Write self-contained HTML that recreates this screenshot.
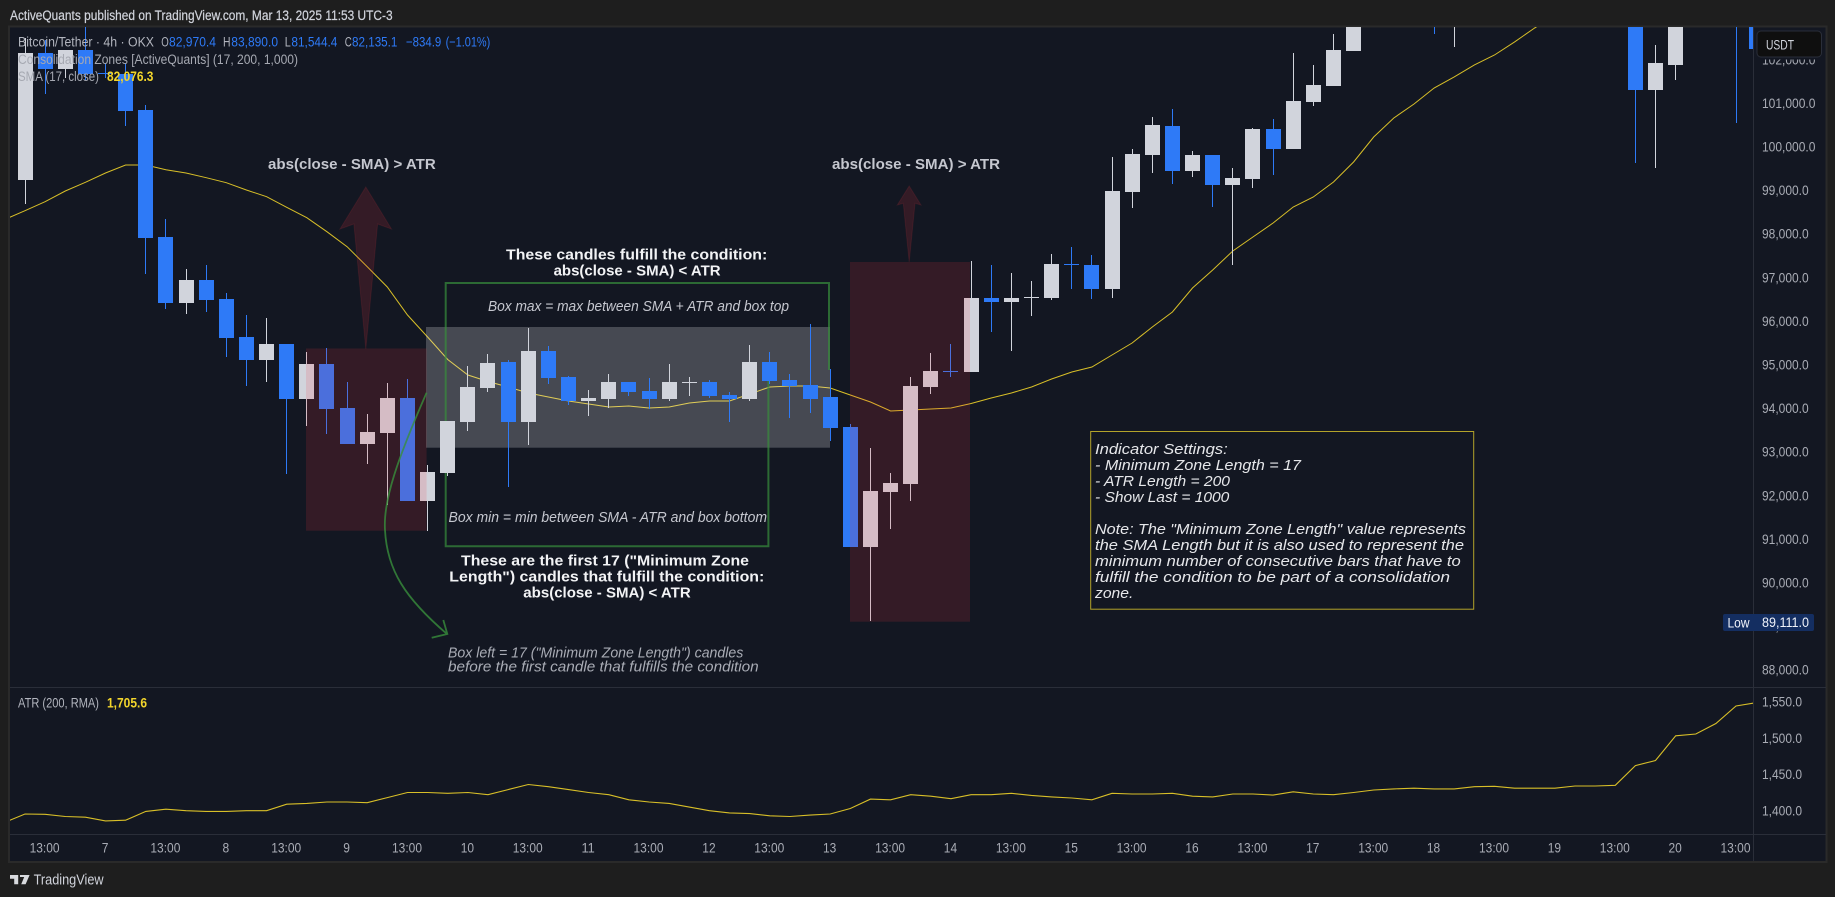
<!DOCTYPE html>
<html lang="en">
<head>
<meta charset="utf-8">
<title>BTC/USDT Consolidation Zones chart</title>
<style>
html,body{margin:0;padding:0;background:#1e1e1e;width:1835px;height:897px;overflow:hidden}
svg{display:block}
text{font-family:"Liberation Sans",sans-serif}
</style>
</head>
<body>
<svg id="chart" xmlns="http://www.w3.org/2000/svg" width="1835" height="897" viewBox="0 0 1835 897">
  <defs>
    <clipPath id="mainClip"><rect x="10" y="27" width="1743" height="660"/></clipPath>
    <clipPath id="atrClip"><rect x="10" y="688" width="1743" height="146"/></clipPath>
  </defs>
  <rect x="0" y="0" width="1835" height="897" fill="#1e1e1e"/>
  <text x="10" y="19.8" font-size="13.5" fill="#d1d4dc" stroke="#d1d4dc" stroke-width="0.2" textLength="382.6" lengthAdjust="spacingAndGlyphs">ActiveQuants published on TradingView.com, Mar 13, 2025 11:53 UTC-3</text>
  <rect x="9" y="26.5" width="1817.5" height="835.5" fill="#131722" stroke="#2a2a2a" stroke-width="2"/>

  <g id="mainPane" clip-path="url(#mainClip)">
    <path id="smaLine" fill="none" stroke="#d8bf28" stroke-width="1"/>
    <rect x="426" y="327" width="404" height="120.7" fill="rgba(255,255,255,0.22)"/>
    <path fill="none" stroke="rgba(56,142,60,0.7)" stroke-width="2" d="M829 370V283H445.7V546.3H768.4V362"/>
    <g id="candles"></g>
    <rect x="306" y="348.5" width="120.6" height="182.2" fill="rgba(242,54,69,0.15)"/>
    <rect x="850" y="262" width="120" height="359.7" fill="rgba(242,54,69,0.15)"/>
    <path d="M365.8 187L391.5 229L377.6 224L365.8 349L353.9 224L340 229Z" fill="rgba(242,54,69,0.15)" stroke="rgba(242,54,69,0.12)" stroke-width="1"/>
    <path d="M909.2 186L921 205L915 203.3L909.2 262L903.3 203.3L897.3 205Z" fill="rgba(242,54,69,0.15)" stroke="rgba(242,54,69,0.12)" stroke-width="1"/>
    <path fill="none" stroke="rgba(56,142,60,0.8)" stroke-width="1.8" d="M426.6 392.7C398 458 383 500 385 530C387 570 405 598 447 634M443.3 620L447.3 634L431.7 637.7"/>

    <g>
      <text x="268" y="169" font-size="15" font-weight="700" fill="#c5c7cf" textLength="167.7" lengthAdjust="spacingAndGlyphs">abs(close - SMA) &gt; ATR</text>
      <text x="832" y="169" font-size="15" font-weight="700" fill="#c5c7cf" textLength="168" lengthAdjust="spacingAndGlyphs">abs(close - SMA) &gt; ATR</text>
      <text x="506" y="259.3" font-size="15" font-weight="700" fill="#f2f3f5" textLength="261.3" lengthAdjust="spacingAndGlyphs">These candles fulfill the condition:</text>
      <text x="553.6" y="275.3" font-size="15" font-weight="700" fill="#f2f3f5" textLength="167" lengthAdjust="spacingAndGlyphs">abs(close - SMA) &lt; ATR</text>
      <text x="488" y="311" font-size="14.5" font-style="italic" fill="#c5c7cf" textLength="301" lengthAdjust="spacingAndGlyphs">Box max = max between SMA + ATR and box top</text>
      <text x="448.5" y="522" font-size="14.5" font-style="italic" fill="#c5c7cf" textLength="318.5" lengthAdjust="spacingAndGlyphs">Box min = min between SMA - ATR and box bottom</text>
      <text x="461" y="565.3" font-size="15" font-weight="700" fill="#f2f3f5" textLength="288" lengthAdjust="spacingAndGlyphs">These are the first 17 ("Minimum Zone</text>
      <text x="449.3" y="581.3" font-size="15" font-weight="700" fill="#f2f3f5" textLength="315" lengthAdjust="spacingAndGlyphs">Length") candles that fulfill the condition:</text>
      <text x="523.3" y="597.3" font-size="15" font-weight="700" fill="#f2f3f5" textLength="167.4" lengthAdjust="spacingAndGlyphs">abs(close - SMA) &lt; ATR</text>
      <text x="448" y="657.3" font-size="14.5" font-style="italic" fill="#a9acb5" textLength="295.3" lengthAdjust="spacingAndGlyphs">Box left = 17 ("Minimum Zone Length") candles</text>
      <text x="448" y="671.3" font-size="14.5" font-style="italic" fill="#a9acb5" textLength="310.7" lengthAdjust="spacingAndGlyphs">before the first candle that fulfills the condition</text>
    </g>

    <g>
      <rect x="1090.7" y="431.5" width="383" height="177.7" fill="none" stroke="#b3a32a" stroke-width="1"/>
      <g font-size="15" font-style="italic" fill="#e6e7ea">
        <text x="1095" y="453.8" textLength="132.7" lengthAdjust="spacingAndGlyphs">Indicator Settings:</text>
        <text x="1095" y="469.8" textLength="206" lengthAdjust="spacingAndGlyphs">- Minimum Zone Length = 17</text>
        <text x="1095" y="485.8" textLength="135" lengthAdjust="spacingAndGlyphs">- ATR Length = 200</text>
        <text x="1095" y="501.8" textLength="134.3" lengthAdjust="spacingAndGlyphs">- Show Last = 1000</text>
        <text x="1095" y="533.8" textLength="371" lengthAdjust="spacingAndGlyphs">Note: The "Minimum Zone Length" value represents</text>
        <text x="1095" y="549.8" textLength="369" lengthAdjust="spacingAndGlyphs">the SMA Length but it is also used to represent the</text>
        <text x="1095" y="565.8" textLength="365.7" lengthAdjust="spacingAndGlyphs">minimum number of consecutive bars that have to</text>
        <text x="1095" y="581.8" textLength="355" lengthAdjust="spacingAndGlyphs">fulfill the condition to be part of a consolidation</text>
        <text x="1095" y="597.8" textLength="38.3" lengthAdjust="spacingAndGlyphs">zone.</text>
      </g>
    </g>
  </g>

  <g font-size="13.5">
    <text x="18" y="46.4" fill="#b2b5be" textLength="136" lengthAdjust="spacingAndGlyphs">Bitcoin/Tether · 4h · OKX</text>
    <text x="161.3" y="46.4" fill="#b2b5be" textLength="7.5" lengthAdjust="spacingAndGlyphs">O</text>
    <text x="169" y="46.4" fill="#2e7af7" textLength="47" lengthAdjust="spacingAndGlyphs">82,970.4</text>
    <text x="223" y="46.4" fill="#b2b5be" textLength="7.5" lengthAdjust="spacingAndGlyphs">H</text>
    <text x="231.3" y="46.4" fill="#2e7af7" textLength="46.7" lengthAdjust="spacingAndGlyphs">83,890.0</text>
    <text x="284.7" y="46.4" fill="#b2b5be" textLength="6" lengthAdjust="spacingAndGlyphs">L</text>
    <text x="291.4" y="46.4" fill="#2e7af7" textLength="46" lengthAdjust="spacingAndGlyphs">81,544.4</text>
    <text x="344.8" y="46.4" fill="#b2b5be" textLength="7" lengthAdjust="spacingAndGlyphs">C</text>
    <text x="352" y="46.4" fill="#2e7af7" textLength="45.4" lengthAdjust="spacingAndGlyphs">82,135.1</text>
    <text x="406" y="46.4" fill="#2e7af7" textLength="35.3" lengthAdjust="spacingAndGlyphs">−834.9</text>
    <text x="445.6" y="46.4" fill="#2e7af7" textLength="44.7" lengthAdjust="spacingAndGlyphs">(−1.01%)</text>
    <text x="18" y="63.8" fill="#a6a9b2" textLength="280" lengthAdjust="spacingAndGlyphs">Consolidation Zones [ActiveQuants] (17, 200, 1,000)</text>
    <text x="18" y="80.8" fill="#a6a9b2" textLength="81" lengthAdjust="spacingAndGlyphs">SMA (17, close)</text>
    <text x="107" y="80.8" fill="#f2d52c" font-weight="700" textLength="46.4" lengthAdjust="spacingAndGlyphs">82,076.3</text>
  </g>

  <path id="atrLine" clip-path="url(#atrClip)" fill="none" stroke="#d8bf28" stroke-width="1.1"/>
  <g font-size="13.5">
    <text x="18" y="707.4" fill="#b2b5be" textLength="81" lengthAdjust="spacingAndGlyphs">ATR (200, RMA)</text>
    <text x="107" y="707.4" fill="#f2d52c" font-weight="700" textLength="40" lengthAdjust="spacingAndGlyphs">1,705.6</text>
  </g>

  <rect x="10" y="687" width="1816" height="1" fill="#2a2e39"/>
  <rect x="10" y="834" width="1816" height="1" fill="#2a2e39"/>
  <rect x="1753" y="27" width="1" height="834" fill="#2a2e39"/>

  <g id="priceAxis" font-size="13.5" fill="#a9acb5"></g>
  <g id="atrAxis" font-size="13.5" fill="#a9acb5"></g>
  <g id="timeAxis" font-size="13.5" fill="#a9acb5"></g>

  <g>
    <rect x="1755" y="29" width="68" height="30.5" fill="#131722"/>
    <rect x="1757" y="31" width="64.5" height="26" rx="4" fill="#0f0f0f" stroke="#2a2e39" stroke-width="1"/>
    <text x="1766" y="49.5" font-size="13.5" fill="#d1d4dc" textLength="28" lengthAdjust="spacingAndGlyphs">USDT</text>
  </g>
  <g>
    <rect x="1723" y="614" width="91" height="17" rx="2" fill="#142e61"/>
    <text x="1727.5" y="627.3" font-size="13.5" fill="#f0f3fa" textLength="22" lengthAdjust="spacingAndGlyphs">Low</text>
    <text x="1762" y="626.8" font-size="13.5" fill="#f0f3fa" textLength="47" lengthAdjust="spacingAndGlyphs">89,111.0</text>
  </g>

  <g>
    <path fill="#d8dade" d="M10 875h8.2v9.2h-4v-5.5H10zM20 875h9.6l-4 9.2h-4.4l3-7.2H20z"/>
    <text x="33.6" y="884.6" font-size="15" fill="#d1d4dc" textLength="70" lengthAdjust="spacingAndGlyphs">TradingView</text>
  </g>
</svg>

<script>
// Candle data, bar by bar (4h bars)
const opens = [99237,102150,101783,102219,101698,101668,100843,97929,96415,96943,96507,95635,95108,95475,94213,95016,94006,93181,93433,94236,91873,92515,93685,94465,95062,93685,95314,94717,94167,94213,94603,94396,94213,94580,94603,94305,94213,95062,94649,94534,94259,93570,90818,92079,92263,94488,94855,94832,96530,96438,96530,96530,97310,97287,96736,98961,99810,100475,99443,99810,99122,99260,100407,99948,101026,101393,102196,102950,103200,103300,103400,103200,103500,103700,103800,103700,103900,103800,103700,103500,103100,101301,101875,103000,103300,103700,103300];
const highs = [102494,102448,102219,102747,101921,101921,100957,98342,97195,97287,96645,96140,96071,95475,95291,95383,94603,93869,94580,94672,92699,93708,94970,95245,95108,95842,95429,94740,94419,94786,94603,94695,95016,94717,94649,94373,95452,95291,94786,95933,94901,93639,93089,92515,94717,95268,95475,97379,97287,97103,96920,97539,97700,97516,99764,99948,100682,100866,99902,99810,99512,100430,100636,102150,101875,102586,103100,103300,103500,103600,103700,103700,103900,104000,104100,104000,104100,104000,103900,103700,103400,102334,103300,103400,103700,103900,103500];
const lows = [98686,101210,101577,101531,101577,100475,97080,96278,96163,96209,95176,94511,94603,92492,93593,93410,93181,92722,91781,91873,91185,92446,93479,94373,92194,93158,94557,94075,93823,94006,94282,93983,94167,94282,94236,93685,94167,94557,93777,93892,93250,90818,89111,91231,91873,94328,94717,94832,95750,95314,96117,96484,96736,96507,96530,98594,99397,99145,99306,98617,97287,99053,99351,99948,100934,101393,102196,102800,102900,103000,102586,102288,103000,103200,103300,103300,103500,103400,103300,103000,99627,99512,101531,102800,103000,100544,102242];
const closes = [102150,101783,102219,101668,101668,100820,97906,96415,96943,96484,95612,95108,95475,94213,95016,93983,93181,93456,94236,91873,92538,93708,94488,95039,93685,95314,94695,94167,94236,94603,94373,94213,94603,94603,94282,94213,95062,94626,94511,94213,93548,90818,92102,92286,94511,94855,94832,96530,96438,96530,96553,97310,97287,96736,98984,99833,100498,99443,99810,99122,99283,100407,99948,101049,101416,102219,102950,103100,103300,103400,103200,103500,103700,103800,103700,103900,103800,103700,103500,103100,101301,101921,103000,103300,103700,103200,102242];

// SMA(17) and ATR(200): first entry is the bar just left of the visible range
const smaValues = [98333,98533,98739,98985,99184,99397,99581,99581,99473,99397,99289,99175,99007,98854,98610,98372,98051,97707,97248,96782,96140,95635,95119,94763,94615,94488,94350,94259,94167,94098,94029,94052,94006,94029,94121,94167,94167,94328,94488,94511,94511,94465,94305,94144,93938,93961,93983,94006,94110,94236,94350,94488,94672,94832,94947,95222,95498,95865,96209,96759,97172,97608,97929,98250,98617,98847,99191,99650,100223,100659,100980,101347,101600,101875,102104,102403,102724,103022,103274,103527,103780,104000,104200,104400,104600,104800,105000,105200];
const atrValues = [1384,1395.5,1395,1392,1391,1386,1387,1399,1402,1400,1399,1399,1400,1400,1409,1410,1412,1412,1411,1418,1425,1425,1424,1425,1422,1429,1436,1433,1429,1425,1422,1415,1412,1410,1405,1400,1397,1396,1393,1392,1394,1395.5,1403,1416,1415,1422,1420,1416.5,1422,1422,1424,1421,1419,1417.5,1415,1424,1423,1423,1424,1420,1419,1423,1423,1421.5,1426,1423,1422,1425,1428.5,1430,1431,1430,1430,1433,1433.5,1431,1431,1431,1434,1434,1435,1462,1469,1503,1505.5,1520,1544,1548.5];

// Axis tick labels
const priceTicks = [102000,101000,100000,99000,98000,97000,96000,95000,94000,93000,92000,91000,90000,89000,88000];
const atrTicks = [1550,1500,1450,1400];
const timeTickLabels = ['13:00','7','13:00','8','13:00','9','13:00','10','13:00','11','13:00','12','13:00','13','13:00','14','13:00','15','13:00','16','13:00','17','13:00','18','13:00','19','13:00','20','13:00'];

// Axis functions
function xBar(i){return 24.5 + 20.13 * i;}
function yPrice(p){return 277.5 + (97000 - p) * 0.0436;}
function yAtr(v){return 810.7 - (v - 1400) * 0.727;}
function fmt(v){return v.toLocaleString('en-US',{minimumFractionDigits:1,maximumFractionDigits:1});}
// Reference labels are a condensed face: keep them narrow while tall
function labelWidth(s){
  let w = 0;
  for (const ch of s) { w += /[0-9]/.test(ch) ? 6.67 : 3.34; }
  return w;
}

const SVGNS = 'http://www.w3.org/2000/svg';
const UP = '#d1d4dc';
const DOWN = '#2e7af7';
const FIRST_TICK_BAR = 1;
const BARS_PER_TICK = 3;

const candleGroup = document.getElementById('candles');
opens.forEach(function(open, i){
  const color = closes[i] >= open ? UP : DOWN;
  const cx = Math.round(xBar(i));
  const hi = yPrice(highs[i]);
  const lo = yPrice(lows[i]);
  const top = yPrice(Math.max(open, closes[i]));
  const bot = yPrice(Math.min(open, closes[i]));

  const wick = document.createElementNS(SVGNS, 'rect');
  
  
  wick.setAttribute('x', cx);
  wick.setAttribute('y', Math.round(hi));
  wick.setAttribute('width', 1);
  wick.setAttribute('height', Math.max(1, Math.round(lo) - Math.round(hi)));
  wick.setAttribute('fill', color);
  candleGroup.appendChild(wick);

  const body = document.createElementNS(SVGNS, 'rect');
  
  
  body.setAttribute('x', cx - 7);
  body.setAttribute('y', Math.round(top));
  body.setAttribute('width', 15);
  body.setAttribute('height', Math.max(1, Math.round(bot) - Math.round(top)));
  body.setAttribute('fill', color);
  candleGroup.appendChild(body);
});

document.getElementById('smaLine').setAttribute('d', smaValues.map(function(v, i){
  return (i ? 'L' : 'M') + (xBar(i - 1) + 0.5).toFixed(1) + ' ' + yPrice(v).toFixed(1);
}).join(''));

document.getElementById('atrLine').setAttribute('d', atrValues.map(function(v, i){
  return (i ? 'L' : 'M') + (xBar(i - 1) + 0.5).toFixed(1) + ' ' + yAtr(v).toFixed(1);
}).join(''));

const priceAxis = document.getElementById('priceAxis');
priceTicks.forEach(function(p){
  const t = document.createElementNS(SVGNS, 'text');
  const label = fmt(p);
  
  
  t.setAttribute('x', 1762);
  t.setAttribute('y', (yPrice(p) + 4.8).toFixed(1));
  t.setAttribute('textLength', labelWidth(label).toFixed(1));
  t.setAttribute('lengthAdjust', 'spacingAndGlyphs');
  t.textContent = label;
  priceAxis.appendChild(t);
});

const atrAxis = document.getElementById('atrAxis');
atrTicks.forEach(function(v){
  const t = document.createElementNS(SVGNS, 'text');
  const label = fmt(v);
  
  
  t.setAttribute('x', 1762);
  t.setAttribute('y', (yAtr(v) + 4.8).toFixed(1));
  t.setAttribute('textLength', labelWidth(label).toFixed(1));
  t.setAttribute('lengthAdjust', 'spacingAndGlyphs');
  t.textContent = label;
  atrAxis.appendChild(t);
});

const timeAxis = document.getElementById('timeAxis');
timeTickLabels.forEach(function(label, k){
  const t = document.createElementNS(SVGNS, 'text');
  const w = labelWidth(label);
  
  
  t.setAttribute('x', (xBar(FIRST_TICK_BAR + k * BARS_PER_TICK) - w / 2).toFixed(1));
  t.setAttribute('y', 852.4);
  t.setAttribute('textLength', w.toFixed(1));
  t.setAttribute('lengthAdjust', 'spacingAndGlyphs');
  t.textContent = label;
  timeAxis.appendChild(t);
});
</script>
</body>
</html>
